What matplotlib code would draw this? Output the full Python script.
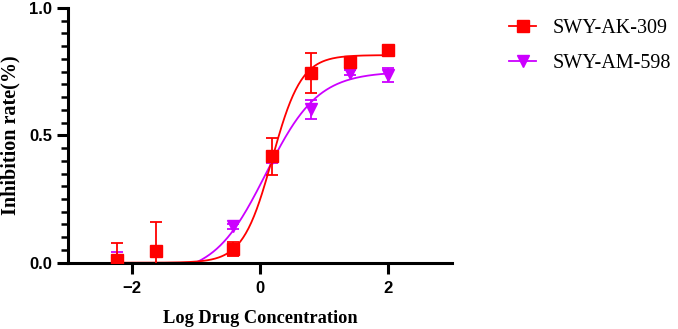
import numpy as np
import matplotlib.pyplot as plt
from matplotlib.ticker import MultipleLocator

# log drug concentration
ak_x = [-2.23, -1.62, -0.42, 0.195, 0.795, 1.40, 2.0]
ak_y = [0.011, 0.047, 0.053, 0.417, 0.745, 0.788, 0.836]
ak_err = [0.068, 0.114, 0.027, 0.071, 0.08, 0.01, 0.01]

am_x = [-2.23, -0.42, 0.195, 0.795, 1.40, 2.0]
am_y = [0.0, 0.143, 0.41, 0.602, 0.745, 0.737]
am_err = [0.043, 0.01, 0.02, 0.038, 0.01, 0.028]

# 4PL fit parameters: bottom, top, logEC50, hill
ak_fit = [0.0, 0.815, 0.19, 1.9]
am_fit = [-0.05, 0.75, 0.093, 1.07]

red = '#FF0000'
purple = '#CC00FF'


def fourpl(x, b, t, ec50, h):
    return b + (t - b) / (1 + 10 ** ((ec50 - x) * h))


fig = plt.figure(figsize=(6.78, 3.29), dpi=100)
ax = fig.add_axes([68 / 678, 1 - 262.7 / 329, 384 / 678, 254.7 / 329])

xs = np.linspace(min(ak_x), max(ak_x), 300)
ax.plot(xs, fourpl(xs, *am_fit), color=purple, lw=1.3, zorder=2)
ax.plot(xs, fourpl(xs, *ak_fit), color=red, lw=1.3, zorder=2)

ax.errorbar(am_x, am_y, yerr=am_err, fmt='v', color=purple, ms=8,
            elinewidth=1.3, capsize=4, capthick=1.3, zorder=3)
ax.errorbar(ak_x, ak_y, yerr=ak_err, fmt='s', color=red, ms=8,
            elinewidth=1.3, capsize=4, capthick=1.3, zorder=4)

# legend handles
h1, = ax.plot([], [], color=red, marker='s', ms=8, lw=1.3)
h2, = ax.plot([], [], color=purple, marker='v', ms=8, lw=1.3)
fig.legend([h1, h2], ['SWY-AK-309', 'SWY-AM-598'], loc='upper left',
           bbox_to_anchor=(491 / 678, 1 - 1 / 329), frameon=False,
           prop={'family': 'Liberation Serif', 'size': 14.5},
           handlelength=1.35, handletextpad=0.8, labelspacing=0.8)

ax.set_xlim(-3, 3)
ax.set_ylim(0, 1.0)
ax.set_xticks([-2, 0, 2])
ax.set_yticks([0.0, 0.5, 1.0])
ax.yaxis.set_minor_locator(MultipleLocator(0.05))
ax.spines['top'].set_visible(False)
ax.spines['right'].set_visible(False)
for s in ['left', 'bottom']:
    ax.spines[s].set_linewidth(2.2)
ax.tick_params(axis='both', which='major', length=8, width=2.2, labelsize=12)
ax.tick_params(axis='x', which='major', pad=5)
ax.tick_params(axis='y', which='minor', length=5, width=1.8)
for lab in ax.get_xticklabels() + ax.get_yticklabels():
    lab.set_fontfamily('Liberation Sans')
    lab.set_fontweight('bold')

ax.set_xlabel('Log Drug Concentration', fontfamily='Liberation Serif',
              fontweight='bold', fontsize=13.2, labelpad=10)
ax.set_ylabel('Inhibition rate(%)', fontfamily='Liberation Serif',
              fontweight='bold', fontsize=14.5, labelpad=6)

fig.savefig('out.png', dpi=100)
